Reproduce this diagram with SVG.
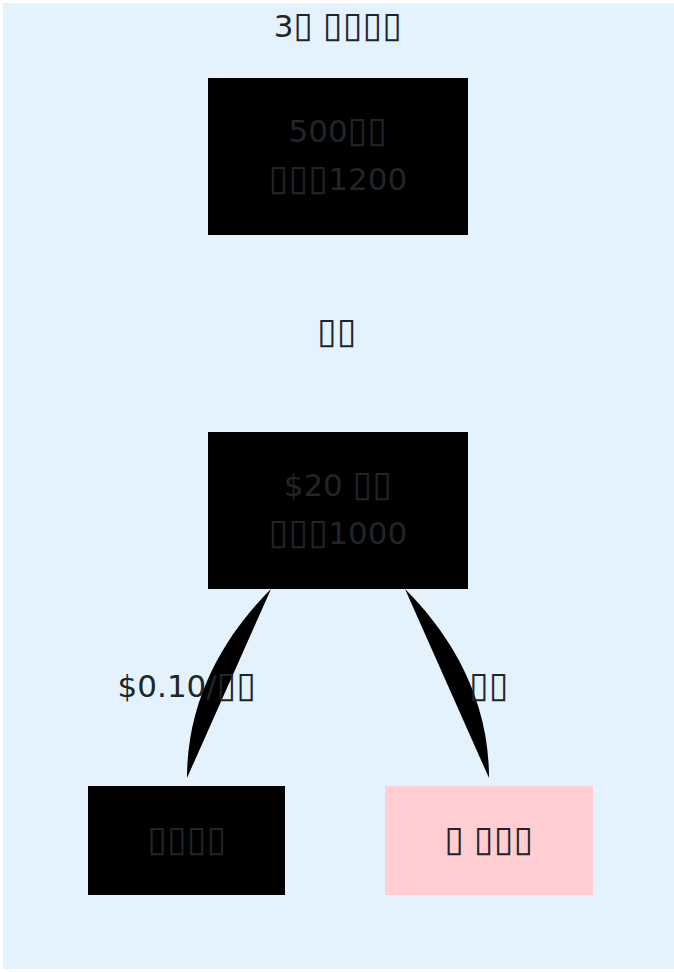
<svg xmlns="http://www.w3.org/2000/svg" width="674" height="972" viewBox="0 0 674 972">
<style>
text{font-family:"DejaVu Sans",sans-serif;font-size:31px;fill:#212529;text-anchor:middle}
.b{font-size:36px;letter-spacing:0}
</style>
<rect id="bg" x="3" y="3" width="671" height="966" fill="#e3f2fd"/>
<text id="title" x="338" y="37">3<tspan class="b">▯</tspan> <tspan class="b">▯▯▯▯</tspan></text>
<g id="connectors">
<path d="M271 589C233 627 187 690 187 778Z" fill="#000"/>
<path d="M405 589C443 627 489 690 489 778Z" fill="#000"/>
<text x="337" y="343"><tspan class="b">▯▯</tspan></text>
<text x="187" y="697">$0.10/<tspan class="b">▯▯</tspan></text>
<text x="489" y="697"><tspan class="b">▯▯</tspan></text>
</g>
<g id="n1"><rect x="208" y="78" width="260" height="157" fill="#000"/>
<text x="338" y="142">500<tspan class="b">▯▯</tspan></text>
<text x="338" y="190"><tspan class="b">▯▯▯</tspan>1200</text></g>
<g id="n2"><rect x="208" y="432" width="260" height="157" fill="#000"/>
<text x="338" y="496">$20 <tspan class="b">▯▯</tspan></text>
<text x="338" y="544"><tspan class="b">▯▯▯</tspan>1000</text></g>
<g id="n3"><rect x="88" y="786" width="197" height="109" fill="#000"/>
<text x="187" y="851"><tspan class="b">▯▯▯▯</tspan></text></g>
<g id="n4"><rect x="385" y="786" width="208" height="109" fill="#ffcdd2"/>
<text x="489" y="851"><tspan class="b">▯</tspan> <tspan class="b">▯▯▯</tspan></text></g>
</svg>
